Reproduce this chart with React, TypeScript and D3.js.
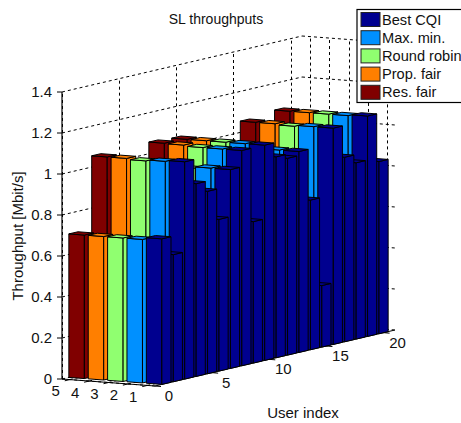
import React from 'react'

import * as d3 from 'd3'

const schemes = ['Best CQI', 'Max. min.', 'Round robin', 'Prop. fair', 'Res. fair']
const users = d3.range(1, 21)

// Throughput per user in Mbit/s
const bestCqi = [0.71, 0.62, 1.06, 0.94, 0.89, 0.74, 0.97, 1.05, 0.69, 1.05, 0.98, 0.96, 0.98, 0.73, 0.3, 1.055, 0.9, 0.86, 1.075, 0.84]
const maxMin = [0.7, 0.61, 1.055, 0.93, 0.88, 0.74, 0.97, 1.05, 0.69, 1.05, 0.97, 0.95, 0.98, 0.73, 0.3, 1.055, 0.89, 0.85, 1.07, 0.83]
const roundRobin = [0.7, 0.6, 1.05, 0.92, 0.87, 0.73, 0.96, 1.05, 0.68, 1.05, 0.97, 0.95, 0.97, 0.72, 0.3, 1.05, 0.88, 0.85, 1.07, 0.83]
const propFair = [0.7, 0.6, 1.055, 0.92, 0.87, 0.73, 0.96, 1.055, 0.68, 1.05, 0.97, 0.95, 0.97, 0.72, 0.3, 1.055, 0.88, 0.85, 1.07, 0.83]
const resFair = [0.7, 0.6, 1.055, 0.92, 0.87, 0.73, 0.96, 1.057, 0.68, 1.05, 0.97, 0.95, 0.97, 0.72, 0.3, 1.055, 0.88, 0.85, 1.07, 0.83]
const series = [bestCqi, maxMin, roundRobin, propFair, resFair]

const xTicks = [0, 5, 10, 15, 20]
const yTicks = [1, 2, 3, 4, 5]
const zTicks = [0, 0.2, 0.4, 0.6, 0.8, 1, 1.2, 1.4]

const colors = ['#00008f', '#0090ff', '#90ff70', '#ff7f00', '#800000']

const X_MAX = 21
const Y_MIN = 0.6
const Y_MAX = 5.4
const Z_MAX = 1.4
const HALF = 0.4

// Oblique projection of the 3D axes, corner of the left wall is the origin
const originX = 62
const originY = 379
const xToDx = d3.scaleLinear().domain([0, X_MAX]).range([0, 240])
const xToDy = d3.scaleLinear().domain([0, X_MAX]).range([0, -56])
const yToDx = d3.scaleLinear().domain([Y_MAX, Y_MIN]).range([0, 93])
const yToDy = d3.scaleLinear().domain([Y_MAX, Y_MIN]).range([0, 7])
const zToDy = d3.scaleLinear().domain([0, Z_MAX]).range([0, -287])

type P = [number, number]
const project = (x: number, y: number, z: number): P => [
  originX + xToDx(x) + yToDx(y),
  originY + xToDy(x) + yToDy(y) + zToDy(z),
]

const path = d3.line()
const poly = (pts: P[]) => path(pts) + 'Z'

const Dashed: React.FC<{ a: P; b: P }> = ({ a, b }) => {
  // keep the upright grid lines on the pixel grid so they stay crisp
  const upright = Math.abs(a[0] - b[0]) < 0.01
  const x1 = upright ? Math.round(a[0]) + 0.5 : a[0]
  const x2 = upright ? Math.round(b[0]) + 0.5 : b[0]
  return <line x1={x1} y1={a[1]} x2={x2} y2={b[1]} stroke="#000" strokeWidth={1} strokeDasharray="3 3" />
}

const Bar: React.FC<{ n: number; s: number; v: number; color: string }> = ({ n, s, v, color }) => {
  const x0 = n - HALF
  const x1 = n + HALF
  const y0 = s - HALF
  const y1 = s + HALF
  const faces = [
    [project(x0, y1, 0), project(x0, y0, 0), project(x0, y0, v), project(x0, y1, v)],
    [project(x0, y0, 0), project(x1, y0, 0), project(x1, y0, v), project(x0, y0, v)],
    [project(x0, y0, v), project(x1, y0, v), project(x1, y1, v), project(x0, y1, v)],
  ]
  return (
    <g>
      {faces.map((f, i) => (
        <path key={i} d={poly(f as P[])} fill={color} stroke="#000" strokeWidth={1} strokeLinejoin="round" />
      ))}
    </g>
  )
}

const App: React.FC = () => {
  const font = { fontFamily: '"Liberation Sans", Arial, sans-serif', fontSize: 15, fill: '#111' }

  // back to front so nearer bars paint over the others
  const bars: { n: number; s: number; v: number; color: string }[] = []
  users
    .slice()
    .reverse()
    .forEach((n, ni) => {
      d3.range(series.length - 1, -1, -1).forEach((si) => {
        bars.push({ n, s: si + 1, v: series[si][users.length - 1 - ni], color: colors[si] })
      })
    })

  return (
    <svg width={461} height={423} style={{ position: 'absolute', left: 0, top: 0, display: 'block' }}>
      <rect width={461} height={423} fill="#fff" />

      {/* grid on the walls and the floor */}
      {zTicks.map((z) => (
        <g key={z}>
          <Dashed a={project(0, Y_MAX, z)} b={project(X_MAX, Y_MAX, z)} />
          <Dashed a={project(X_MAX, Y_MAX, z)} b={project(X_MAX, Y_MIN, z)} />
        </g>
      ))}
      {xTicks.map((x) => (
        <g key={x}>
          <Dashed a={project(x, Y_MAX, 0)} b={project(x, Y_MAX, Z_MAX)} />
          <Dashed a={project(x, Y_MIN, 0)} b={project(x, Y_MAX, 0)} />
        </g>
      ))}
      {yTicks.map((y) => (
        <g key={y}>
          <Dashed a={project(X_MAX, y, 0)} b={project(X_MAX, y, Z_MAX)} />
          <Dashed a={project(0, y, 0)} b={project(X_MAX, y, 0)} />
        </g>
      ))}

      {/* axes */}
      <path
        d={poly([project(0, Y_MAX, 0), project(0, Y_MIN, 0), project(X_MAX, Y_MIN, 0)]).replace('Z', '')}
        fill="none"
        stroke="#000"
        strokeWidth={1}
      />
      <line
        x1={project(0, Y_MAX, 0)[0]}
        y1={project(0, Y_MAX, 0)[1]}
        x2={project(0, Y_MAX, Z_MAX)[0]}
        y2={project(0, Y_MAX, Z_MAX)[1]}
        stroke="#000"
        strokeWidth={1.2}
      />

      {bars.map((b) => (
        <Bar key={`${b.n}-${b.s}`} {...b} />
      ))}

      {/* ticks and tick labels */}
      {zTicks.map((z) => {
        const [px, py] = project(0, Y_MAX, z)
        return (
          <g key={z}>
            <line x1={px - 5} y1={py} x2={px} y2={py} stroke="#000" />
            <text x={px - 10} y={py + 5} textAnchor="end" {...font}>
              {d3.format('~g')(z)}
            </text>
          </g>
        )
      })}
      {xTicks.map((x) => {
        const [px, py] = project(x, Y_MIN, 0)
        return (
          <g key={x}>
            <line x1={px} y1={py} x2={px + 6} y2={py + 0.5} stroke="#000" />
            <text x={px + 14} y={py + 15} textAnchor="middle" {...font}>
              {x}
            </text>
          </g>
        )
      })}
      {yTicks.map((y) => {
        const [px, py] = project(0, y, 0)
        return (
          <g key={y}>
            <line x1={px} y1={py} x2={px - 5} y2={py + 1.2} stroke="#000" />
            <text x={px - 14} y={py + 16.5} textAnchor="middle" {...font}>
              {y}
            </text>
          </g>
        )
      })}

      <text x={216} y={24} textAnchor="middle" {...font} fontSize={14}>
        SL throughputs
      </text>
      <text x={303} y={418} textAnchor="middle" {...font}>
        User index
      </text>
      <text transform="translate(23,236) rotate(-90)" textAnchor="middle" {...font}>
        Throughput [Mbit/s]
      </text>

      {/* legend runs off the right edge of the picture */}
      <rect x={357} y={9.5} width={120} height={93} fill="#fff" stroke="#000" strokeWidth={1.2} />
      {schemes.map((name, i) => (
        <g key={name}>
          <rect x={361} y={12.5 + i * 18.2} width={19} height={14} fill={colors[i]} stroke="#222" />
          <text x={382} y={24.5 + i * 18.2} {...font} fontSize={14.6}>
            {name}
          </text>
        </g>
      ))}
    </svg>
  )
}

export default App
